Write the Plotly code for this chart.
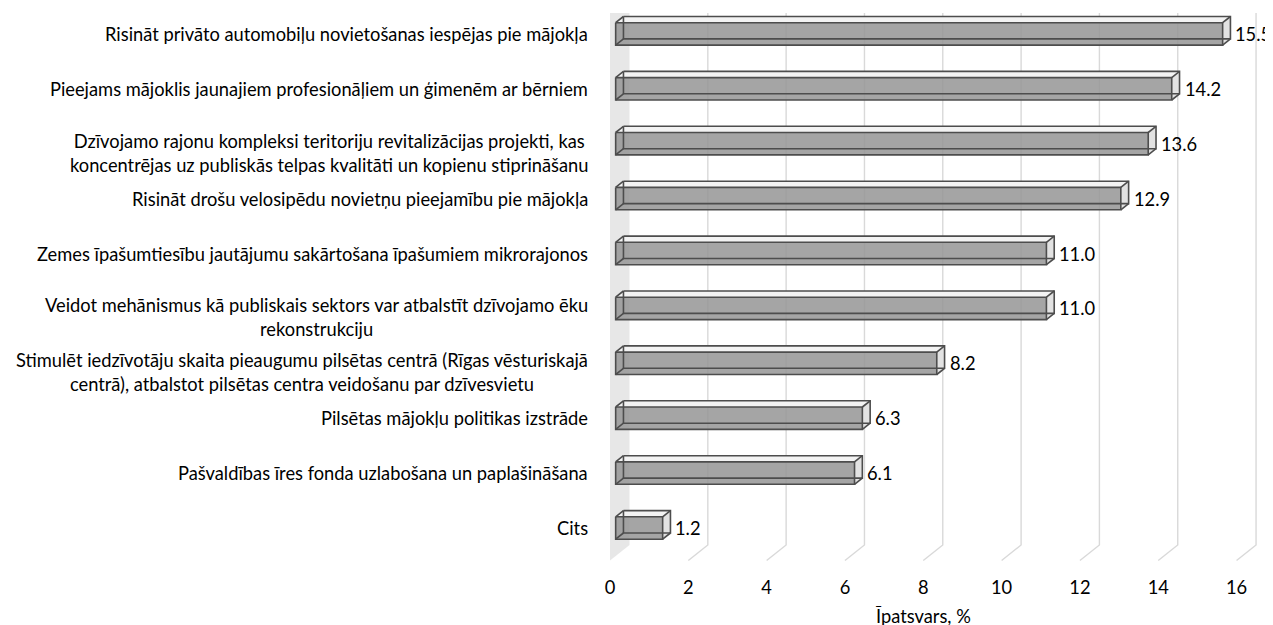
import plotly.graph_objects as go

# ---------------- data ----------------
categories = [
    "Risināt privāto automobiļu novietošanas iespējas pie mājokļa",
    "Pieejams mājoklis jaunajiem profesionāļiem un ģimenēm ar bērniem",
    "Dzīvojamo rajonu kompleksi teritoriju revitalizācijas projekti, kas<br>koncentrējas uz publiskās telpas kvalitāti un kopienu stiprināšanu",
    "Risināt drošu velosipēdu novietņu pieejamību pie mājokļa",
    "Zemes īpašumtiesību jautājumu sakārtošana īpašumiem mikrorajonos",
    "Veidot mehānismus kā publiskais sektors var atbalstīt dzīvojamo ēku<br>rekonstrukciju",
    "Stimulēt iedzīvotāju skaita pieaugumu pilsētas centrā (Rīgas vēsturiskajā<br>centrā), atbalstot pilsētas centra veidošanu par dzīvesvietu",
    "Pilsētas mājokļu politikas izstrāde",
    "Pašvaldības īres fonda uzlabošana un paplašināšana",
    "Cits",
]
values = [15.5, 14.2, 13.6, 12.9, 11.0, 11.0, 8.2, 6.3, 6.1, 1.2]
x_ticks = [0, 2, 4, 6, 8, 10, 12, 14, 16]
axis_title = "Īpatsvars, %"

# ---------------- layout geometry (pixels) ----------------
W, H = 1273, 625
OFF = 8               # page body margin offset
FONT = "Lato"
FS = 18.3
PX_X = 39.16          # pixels per x unit
X0 = 610 - OFF        # pixel of x=0 on the front plane
L, R = 590 - OFF, 12
T, PLOT_BOTTOM = 5, 565 - OFF
ROW_PX = 54.9
ROW0 = 33.9 - OFF

xmin = -(X0 - L) / PX_X
xmax = xmin + (W - L - R) / PX_X
ytop = (T - ROW0) / ROW_PX
ybot = (PLOT_BOTTOM - ROW0) / ROW_PX

DX = 19.5 / PX_X      # depth of floor / wall
DY = 15.5 / ROW_PX
F1, F2 = 0.29, 0.69   # bar depth range
HH = 11.2 / ROW_PX    # half height of bar front face
y_floor_front = (560.5 - OFF - ROW0) / ROW_PX
y_floor_back = y_floor_front - DY
y_wall_top = (10 - OFF - ROW0) / ROW_PX

fig = go.Figure()

# left wall
fig.add_trace(go.Scatter(
    x=[0, DX, DX, 0, 0],
    y=[y_floor_front, y_floor_back, y_wall_top, y_wall_top, y_floor_front],
    mode="lines", fill="toself", fillcolor="#e7e7e7",
    line=dict(width=0), hoverinfo="skip", showlegend=False))

# gridlines (back wall + floor)
gx, gy = [], []
for v in x_ticks[1:]:
    gx += [v + DX, v + DX, v, None]
    gy += [y_wall_top, y_floor_back, y_floor_front, None]
fig.add_trace(go.Scatter(x=gx, y=gy, mode="lines",
                         line=dict(color="#d9d9d9", width=1.4),
                         hoverinfo="skip", showlegend=False))

# bars
top_x, top_y, right_x, right_y, front_x, front_y, ex, ey = [], [], [], [], [], [], [], []
ox = (F2 - F1) * DX
oy = -(F2 - F1) * DY
for i, v in enumerate(values):
    fx0, fx1 = F1 * DX, v + F1 * DX
    fyt, fyb = i - HH, i + HH
    bx0, bx1 = fx0 + ox, fx1 + ox
    byt, byb = fyt + oy, fyb + oy
    top_x += [fx0, fx1, bx1, bx0, fx0, None]
    top_y += [fyt, fyt, byt, byt, fyt, None]
    right_x += [fx1, bx1, bx1, fx1, fx1, None]
    right_y += [fyt, byt, byb, fyb, fyt, None]
    front_x += [fx0, fx1, fx1, fx0, fx0, None]
    front_y += [fyt, fyt, fyb, fyb, fyt, None]
    # 12 edges
    ex += [fx0, fx1, fx1, fx0, fx0, None]
    ey += [fyt, fyt, fyb, fyb, fyt, None]
    ex += [bx0, bx1, bx1, bx0, bx0, None]
    ey += [byt, byt, byb, byb, byt, None]
    for (a, b) in [((fx0, fyt), (bx0, byt)), ((fx1, fyt), (bx1, byt)),
                   ((fx1, fyb), (bx1, byb)), ((fx0, fyb), (bx0, byb))]:
        ex += [a[0], b[0], None]
        ey += [a[1], b[1], None]

fig.add_trace(go.Scatter(x=top_x, y=top_y, mode="lines", fill="toself",
                         fillcolor="#f3f3f3", line=dict(width=0),
                         hoverinfo="skip", showlegend=False))
fig.add_trace(go.Scatter(x=right_x, y=right_y, mode="lines", fill="toself",
                         fillcolor="#e2e2e2", line=dict(width=0),
                         hoverinfo="skip", showlegend=False))
fig.add_trace(go.Scatter(x=front_x, y=front_y, mode="lines", fill="toself",
                         fillcolor="rgba(150,150,150,0.86)", line=dict(width=0),
                         hoverinfo="skip", showlegend=False))
fig.add_trace(go.Scatter(x=ex, y=ey, mode="lines",
                         line=dict(color="#4d4d4d", width=1.6),
                         hoverinfo="skip", showlegend=False))

annotations = []
for i, (c, v) in enumerate(zip(categories, values)):
    annotations.append(dict(
        x=0, xref="paper", y=i, yref="y", text=c, showarrow=False,
        xanchor="right", yanchor="middle", align="center",
        yshift=-9 if "<br>" in c else 0,
        font=dict(family=FONT, size=FS, color="#000000")))
    annotations.append(dict(
        x=v + F2 * DX, xref="x", y=i, yref="y", text=f"{v:.1f}",
        showarrow=False, xanchor="left", yanchor="middle", xshift=3,
        font=dict(family=FONT, size=FS, color="#000000")))

annotations.append(dict(
    x=(x_ticks[0] + x_ticks[-1]) / 2, xref="x",
    y=-(616 - OFF - PLOT_BOTTOM) / (PLOT_BOTTOM - T), yref="paper",
    text=axis_title, showarrow=False, xanchor="center", yanchor="middle",
    font=dict(family=FONT, size=FS, color="#000000")))

fig.update_layout(
    width=W, height=H,
    margin=dict(l=L, r=R, t=T, b=H - PLOT_BOTTOM, pad=0),
    paper_bgcolor="white", plot_bgcolor="white",
    showlegend=False, hovermode=False,
    annotations=annotations,
    xaxis=dict(range=[xmin, xmax], tickvals=x_ticks, ticktext=[str(t) for t in x_ticks],
               showgrid=False, zeroline=False, showline=False,
               ticks="outside", ticklen=6, tickcolor="rgba(0,0,0,0)",
               tickfont=dict(family=FONT, size=FS, color="#000000"),
               fixedrange=True),
    yaxis=dict(range=[ybot, ytop], showgrid=False, zeroline=False,
               showline=False, showticklabels=False, ticks="",
               fixedrange=True),
)

fig.write_html("out.html", config={"displayModeBar": False})
